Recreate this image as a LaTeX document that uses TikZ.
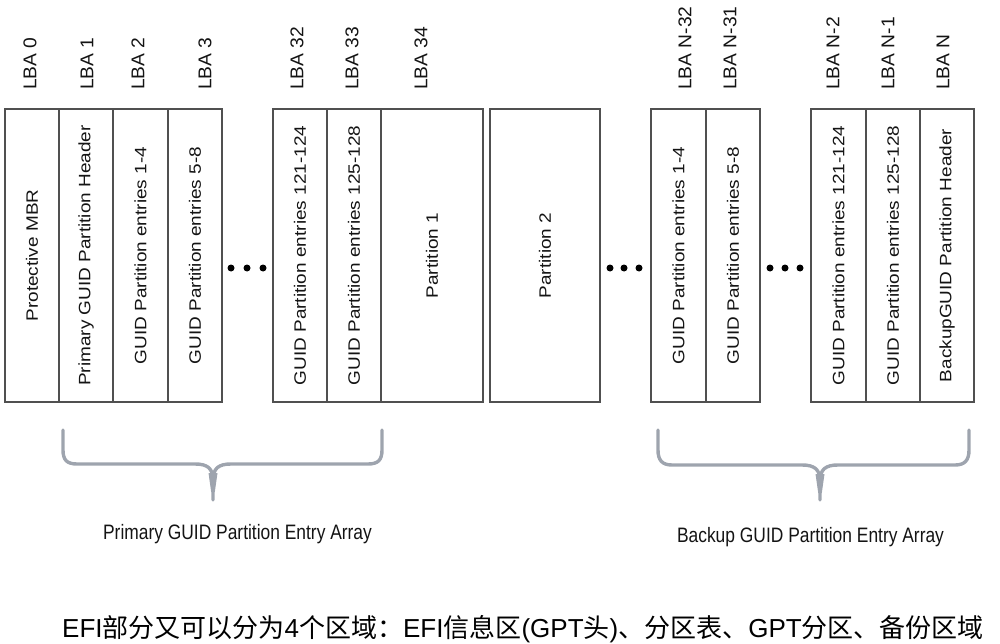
\documentclass[tikz,border=0pt]{standalone}
\usepackage{graphicx}
\usepackage{fontspec}
\setmainfont{Liberation Sans}
\newfontfamily\cjk{Noto Sans CJK SC}
\definecolor{linec}{RGB}{80,80,80}
\definecolor{txtc}{RGB}{20,20,20}
\definecolor{bracec}{RGB}{158,164,174}
\newcommand{\boxtxt}[1]{\scalebox{1.15}[1]{#1}}
\newcommand{\lbatxt}[1]{\scalebox{1.04}[1]{#1}}
\newcommand{\htxt}[1]{\scalebox{1}[1.2]{#1}}
\newcommand{\cj}[1]{{\cjk\fontsize{26}{30}\selectfont #1}}
\begin{document}
\begin{tikzpicture}[x=1pt,y=-1pt,
  cell/.style={draw=linec, line width=1.1pt, rotate=90, minimum width=293pt,
    inner sep=0pt, text=txtc, font=\fontsize{16.5}{19}\selectfont},
  lba/.style={rotate=90, anchor=west, inner sep=0pt, text=txtc,
    font=\fontsize{18.5}{22}\selectfont},
  dotc/.style={circle, fill=black, inner sep=0pt, minimum size=7pt},
  bracep/.style={draw=bracec, line width=3.4pt, line cap=round, line join=round},
  arrlab/.style={text=txtc, font=\fontsize{17.4}{21}\selectfont}
]
\useasboundingbox (0,0) rectangle (1000,644);

% boxes (rotated: minimum height = horizontal width)
\node[cell, minimum height=54pt] (b0) at (32,255.5) {\boxtxt{Protective MBR}};
\node[cell, minimum height=54pt] (b1) at (86,255.5) {\boxtxt{Primary GUID Partition Header}\hspace{18pt}};
\node[cell, minimum height=55pt] (b2) at (140.5,255.5) {\boxtxt{GUID Partition entries 1-4}};
\node[cell, minimum height=54pt] (b3) at (195,255.5) {\boxtxt{GUID Partition entries 5-8}};
\node[cell, minimum height=54pt] (b32) at (300,255.5) {\boxtxt{GUID Partition entries 121-124}};
\node[cell, minimum height=54pt] (b33) at (354,255.5) {\boxtxt{GUID Partition entries 125-128}};
\node[cell, minimum height=102pt] (b34) at (432,255.5) {\boxtxt{Partition 1}};
\node[cell, minimum height=110pt] (p2) at (545,255.5) {\boxtxt{Partition 2}};
\node[cell, minimum height=55pt] (bn32) at (678.5,255.5) {\boxtxt{GUID Partition entries 1-4}};
\node[cell, minimum height=54pt] (bn31) at (733,255.5) {\boxtxt{GUID Partition entries 5-8}};
\node[cell, minimum height=55pt] (bn2) at (838.5,255.5) {\boxtxt{GUID Partition entries 121-124}};
\node[cell, minimum height=54pt] (bn1) at (893,255.5) {\boxtxt{GUID Partition entries 125-128}};
\node[cell, minimum height=54pt] (bn) at (947,255.5) {\boxtxt{BackupGUID Partition Header}\hspace{14pt}};

% LBA labels
\node[lba] (l0) at (30,90) {\lbatxt{LBA 0}};
\node[lba] (l1) at (87,90) {\lbatxt{LBA 1}};
\node[lba] (l2) at (138,90) {\lbatxt{LBA 2}};
\node[lba] (l3) at (205,90) {\lbatxt{LBA 3}};
\node[lba] (l32) at (297,90) {\lbatxt{LBA 32}};
\node[lba] (l33) at (352,90) {\lbatxt{LBA 33}};
\node[lba] (l34) at (421,90) {\lbatxt{LBA 34}};
\node[lba] (ln32) at (685,90) {\lbatxt{LBA N-32}};
\node[lba] (ln31) at (730,90) {\lbatxt{LBA N-31}};
\node[lba] (ln2) at (833,90) {\lbatxt{LBA N-2}};
\node[lba] (ln1) at (888,90) {\lbatxt{LBA N-1}};
\node[lba] (ln) at (943,90) {\lbatxt{LBA N}};

% ellipsis dots
\node[dotc] (d1a) at (231,268) {};
\node[dotc] (d1b) at (247,268) {};
\node[dotc] (d1c) at (263,268) {};
\node[dotc] (d2a) at (610,268) {};
\node[dotc] (d2b) at (624,268) {};
\node[dotc] (d2c) at (639,268) {};
\node[dotc] (d3a) at (770,268) {};
\node[dotc] (d3b) at (785,268) {};
\node[dotc] (d3c) at (800,268) {};

% braces
\draw[bracep] (63,430) -- (63,450) .. controls (63,460) and (67,464) .. (77,464)
  -- (195,464) .. controls (207,464) and (213,468) .. (213,480) -- (213,500);
\draw[bracep] (382,430) -- (382,450) .. controls (382,460) and (378,464) .. (368,464)
  -- (231,464) .. controls (219,464) and (213,468) .. (213,480);
\fill[bracec] (208.5,473) -- (217.5,473) -- (214.8,492) -- (211.2,492) -- cycle;

\draw[bracep] (658,430) -- (658,450) .. controls (658,460) and (662,465) .. (672,465)
  -- (802,465) .. controls (814,465) and (820,469) .. (820,481) -- (820,500);
\draw[bracep] (969,430) -- (969,450) .. controls (969,460) and (965,465) .. (955,465)
  -- (838,465) .. controls (826,465) and (820,469) .. (820,481);
\fill[bracec] (815.5,474) -- (824.5,474) -- (821.8,493) -- (818.2,493) -- cycle;

% array labels
\node[arrlab] (pa) at (237.5,534) {\htxt{Primary GUID Partition Entry Array}};
\node[arrlab] (ba) at (810.5,537) {\htxt{Backup GUID Partition Entry Array}};

% caption
\node[anchor=base west, inner sep=0pt, text=black, font=\fontsize{26}{30}\selectfont] (cap) at (62,637)
 {EFI\cj{部分又可以分为}4\cj{个区域：}EFI\cj{信息区}(GPT\cj{头})\cj{、分区表、}GPT\cj{分区、备份区域}};
\end{tikzpicture}
\end{document}
